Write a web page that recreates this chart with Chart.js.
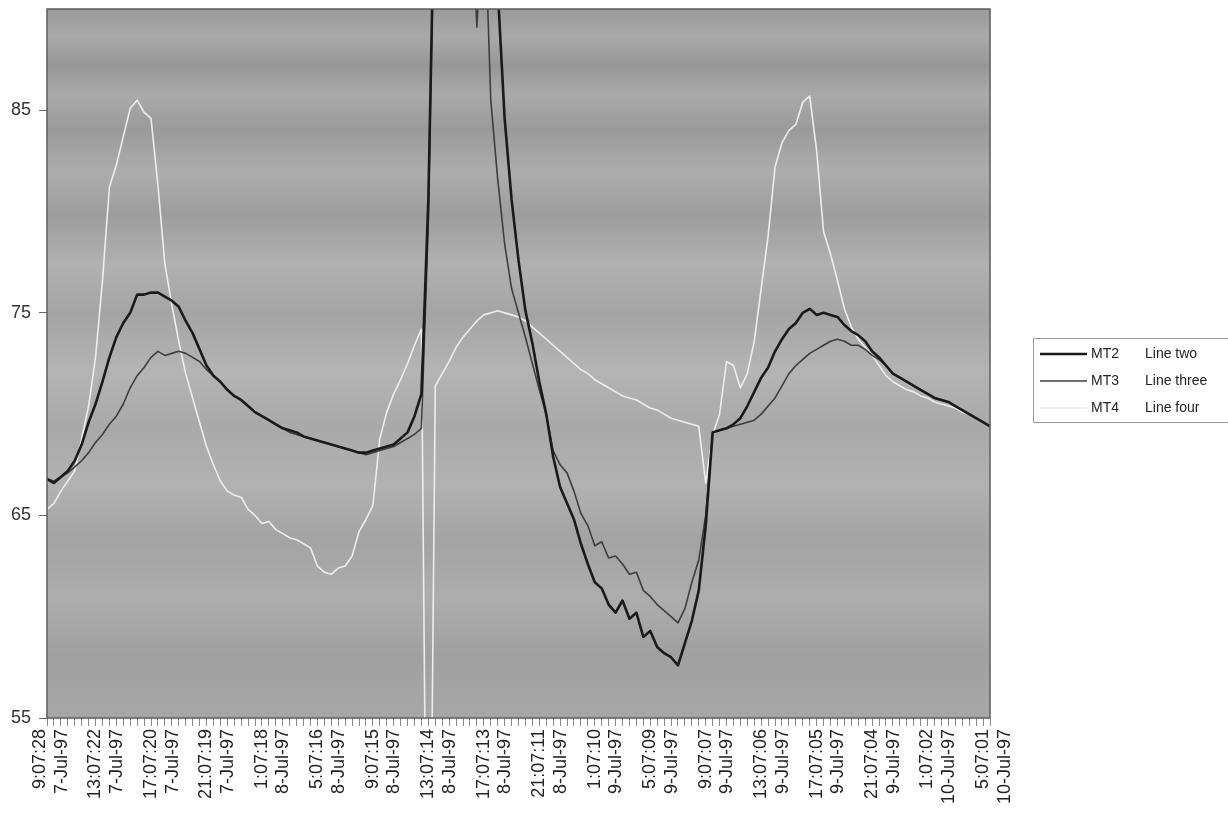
<!DOCTYPE html>
<html>
<head>
<meta charset="utf-8">
<title>MT2 / MT3 / MT4</title>
<script src="https://cdn.jsdelivr.net/npm/chart.js@4.4.1/dist/chart.umd.min.js"></script>
<style>
  html, body { margin: 0; padding: 0; background: #fff; }
  #wrap { width: 1228px; height: 816px; }
</style>
</head>
<body>
<div id="wrap"><canvas id="chart" width="1228" height="816"></canvas></div>
<script>
// one label every 4 hours (time over date)
const tickLabels = [
  ['9:07:28', '7-Jul-97'], ['13:07:22', '7-Jul-97'], ['17:07:20', '7-Jul-97'], ['21:07:19', '7-Jul-97'],
  ['1:07:18', '8-Jul-97'], ['5:07:16', '8-Jul-97'], ['9:07:15', '8-Jul-97'], ['13:07:14', '8-Jul-97'],
  ['17:07:13', '8-Jul-97'], ['21:07:11', '8-Jul-97'], ['1:07:10', '9-Jul-97'], ['5:07:09', '9-Jul-97'],
  ['9:07:07', '9-Jul-97'], ['13:07:06', '9-Jul-97'], ['17:07:05', '9-Jul-97'], ['21:07:04', '9-Jul-97'],
  ['1:07:02', '10-Jul-97'], ['5:07:01', '10-Jul-97']
];
const yTicks = [55, 65, 75, 85];
const seriesNames = ['MT2', 'MT3', 'MT4'];
const seriesDescs = ['Line two', 'Line three', 'Line four'];

// samples every half hour from the first reading
const hours = Array.from({ length: 137 }, (_, i) => i / 2);

const mt2 = [
  66.8, 66.6, 66.9, 67.2, 67.7, 68.5, 69.6, 70.5,
  71.6, 72.8, 73.8, 74.5, 75.0, 75.9, 75.9, 76.0,
  76.0, 75.8, 75.6, 75.3, 74.6, 74.0, 73.2, 72.4,
  71.9, 71.6, 71.2, 70.9, 70.7, 70.4, 70.1, 69.9,
  69.7, 69.5, 69.3, 69.2, 69.1, 68.9, 68.8, 68.7,
  68.6, 68.5, 68.4, 68.3, 68.2, 68.1, 68.1, 68.2,
  68.3, 68.4, 68.5, 68.8, 69.1, 69.9, 71.0, 80.6,
  98, 98, 98, 98, 98, 98, 98, 98,
  98, 91, 84.6, 80.6, 77.6, 75.1, 73.5, 71.6,
  70.0, 67.9, 66.4, 65.6, 64.8, 63.6, 62.6, 61.7,
  61.4, 60.6, 60.2, 60.8, 59.9, 60.2, 59.0, 59.3,
  58.5, 58.2, 58.0, 57.6, 58.7, 59.8, 61.3, 64.5,
  69.1, 69.2, 69.3, 69.5, 69.8, 70.4, 71.1, 71.8,
  72.3, 73.1, 73.7, 74.2, 74.5, 75.0, 75.2, 74.9,
  75.0, 74.9, 74.8, 74.4, 74.1, 73.9, 73.6, 73.1,
  72.8, 72.4, 72.0, 71.8, 71.6, 71.4, 71.2, 71.0,
  70.8, 70.7, 70.6, 70.4, 70.2, 70.0, 69.8, 69.6,
  69.4
];

const mt3 = [
  66.8, 66.7, 66.9, 67.1, 67.4, 67.7, 68.1, 68.6,
  69.0, 69.5, 69.9, 70.5, 71.3, 71.9, 72.3, 72.8,
  73.1, 72.9, 73.0, 73.1, 73.0, 72.8, 72.6, 72.2,
  71.9, 71.6, 71.2, 70.9, 70.7, 70.4, 70.1, 69.9,
  69.7, 69.5, 69.3, 69.1, 69.0, 68.9, 68.8, 68.7,
  68.6, 68.5, 68.4, 68.3, 68.2, 68.1, 68.0, 68.1,
  68.2, 68.3, 68.4, 68.6, 68.8, 69.0, 69.3, 79.5,
  98, 98, 98, 98, 98, 96, 89.1, 96,
  85.5, 81.6, 78.4, 76.2, 75.0, 73.8, 72.5, 71.2,
  70.0, 68.2, 67.5, 67.1, 66.2, 65.1, 64.5, 63.5,
  63.7, 62.9, 63.0, 62.6, 62.1, 62.2, 61.3, 61.0,
  60.6, 60.3, 60.0, 59.7, 60.4, 61.7, 62.8, 65.0,
  69.1, 69.2, 69.3, 69.4, 69.5, 69.6, 69.7, 70.0,
  70.4, 70.8, 71.4, 72.0, 72.4, 72.7, 73.0, 73.2,
  73.4, 73.6, 73.7, 73.6, 73.4, 73.4, 73.2, 72.9,
  72.7, 72.4, 72.0, 71.8, 71.6, 71.4, 71.2, 71.0,
  70.8, 70.7, 70.6, 70.4, 70.2, 70.0, 69.8, 69.6,
  69.4
];

const mt4 = [
  65.3, 65.6, 66.2, 66.7, 67.2, 68.8, 70.4, 72.8,
  76.6, 81.2, 82.3, 83.7, 85.1, 85.5, 84.9, 84.6,
  81.3, 77.4, 75.4, 73.6, 72.0, 70.8, 69.6, 68.4,
  67.5, 66.7, 66.2, 66.0, 65.9, 65.3, 65.0, 64.6,
  64.7, 64.3, 64.1, 63.9, 63.8, 63.6, 63.4, 62.5,
  62.2, 62.1, 62.4, 62.5, 63.0, 64.2, 64.8, 65.5,
  68.8, 70.1, 71.0, 71.7, 72.5, 73.4, 74.2, 35,
  71.4, 72.0, 72.6, 73.3, 73.8, 74.2, 74.6, 74.9,
  75.0, 75.1, 75.0, 74.9, 74.8, 74.6, 74.3, 74.0,
  73.7, 73.4, 73.1, 72.8, 72.5, 72.2, 72.0, 71.7,
  71.5, 71.3, 71.1, 70.9, 70.8, 70.7, 70.5, 70.3,
  70.2, 70.0, 69.8, 69.7, 69.6, 69.5, 69.4, 66.6,
  69.0, 70.0, 72.6, 72.4, 71.3, 72.0, 73.6, 76.2,
  78.8, 82.2, 83.4, 84.0, 84.3, 85.4, 85.7, 83.0,
  79.0, 77.9, 76.6, 75.2, 74.3, 73.7, 73.3, 72.9,
  72.4, 71.9, 71.6, 71.4, 71.2, 71.1, 70.9, 70.8,
  70.6, 70.5, 70.4, 70.3, 70.1, 70.0, 69.8, 69.6,
  69.4
];

const seriesValues = [mt2, mt3, mt4];
const lineColors = ['#1a1a1a', '#3e3e3e', '#ededed'];
const lineWidths = [2.6, 1.6, 1.6];

// grey scanned-looking plot background with soft horizontal bands
const plotBackground = {
  id: 'plotBackground',
  beforeDatasetsDraw(chart) {
    const { ctx, chartArea: a } = chart;
    const g = ctx.createLinearGradient(0, a.top, 0, a.bottom);
    const stops = [
      [0, '#9b9b9b'], [0.04, '#a9a9a9'], [0.08, '#979797'], [0.12, '#aaaaaa'],
      [0.17, '#9a9a9a'], [0.23, '#adadad'], [0.29, '#9d9d9d'], [0.36, '#b1b1b1'],
      [0.43, '#a4a4a4'], [0.51, '#b4b4b4'], [0.59, '#a9a9a9'], [0.67, '#b2b2b2'],
      [0.75, '#a3a3a3'], [0.83, '#adadad'], [0.91, '#a0a0a0'], [1, '#a7a7a7']
    ];
    stops.forEach(([s, c]) => g.addColorStop(s, c));
    ctx.save();
    ctx.fillStyle = g;
    ctx.fillRect(a.left, a.top, a.width, a.height);
    ctx.restore();
  },
  afterDatasetsDraw(chart) {
    const { ctx, chartArea: a } = chart;
    ctx.save();
    ctx.strokeStyle = '#5e5e5e';
    ctx.lineWidth = 1.5;
    ctx.strokeRect(a.left, a.top, a.width, a.height);
    ctx.restore();
  }
};

// boxed legend like the original: line sample, series code, description
const boxLegend = {
  id: 'boxLegend',
  afterDraw(chart) {
    const ctx = chart.ctx;
    const left = 1033, top = 338, rowH = 27;
    ctx.save();
    ctx.strokeStyle = '#9a9a9a';
    ctx.lineWidth = 1;
    ctx.strokeRect(left + 0.5, top + 0.5, 200, 84);
    ctx.font = '14px "Liberation Sans", Arial, sans-serif';
    ctx.textBaseline = 'middle';
    ctx.fillStyle = '#222';
    chart.data.datasets.forEach((ds, i) => {
      const y = top + 16 + i * rowH;
      ctx.strokeStyle = ds.borderColor;
      ctx.lineWidth = ds.borderWidth;
      ctx.beginPath();
      ctx.moveTo(left + 7, y);
      ctx.lineTo(left + 54, y);
      ctx.stroke();
      ctx.fillText(seriesNames[i], left + 58, y);
      ctx.fillText(seriesDescs[i], left + 112, y);
    });
    ctx.restore();
  }
};

Chart.defaults.font.family = '"Liberation Sans", Arial, sans-serif';

new Chart(document.getElementById('chart'), {
  type: 'line',
  data: {
    datasets: seriesValues.map((vals, i) => ({
      label: seriesNames[i] + ' ' + seriesDescs[i],
      data: hours.map((h, j) => ({ x: h, y: vals[j] })),
      borderColor: lineColors[i],
      borderWidth: lineWidths[i],
      pointRadius: 0,
      tension: 0,
      borderJoinStyle: 'round',
      borderCapStyle: 'round'
    }))
  },
  options: {
    responsive: false,
    animation: false,
    events: [],
    layout: { padding: { top: 9, right: 238, left: 0, bottom: 0 } },
    plugins: {
      legend: { display: false },
      tooltip: { enabled: false }
    },
    scales: {
      x: {
        type: 'linear',
        min: 0,
        max: 68,
        afterBuildTicks: s => { s.ticks = hours.map(v => ({ value: v })); },
        afterFit: s => { s.height = 98; },
        border: { display: false },
        grid: { drawOnChartArea: false, tickLength: 8, color: '#8c8c8c' },
        ticks: {
          autoSkip: false,
          minRotation: 90,
          maxRotation: 90,
          labelOffset: -7,
          padding: 3,
          color: '#222',
          font: { size: 18 },
          callback: v => (v % 4 === 0 ? tickLabels[v / 4] : '')
        }
      },
      y: {
        min: 55,
        max: 90,
        afterBuildTicks: s => { s.ticks = yTicks.map(v => ({ value: v })); },
        afterFit: s => { s.width = 47; s.paddingTop = 0; s.paddingBottom = 0; },
        border: { display: false },
        grid: { drawOnChartArea: false, tickLength: 8, color: '#666' },
        ticks: { padding: 8, color: '#333', font: { size: 18 } }
      }
    }
  },
  plugins: [plotBackground, boxLegend]
});
</script>
</body>
</html>
